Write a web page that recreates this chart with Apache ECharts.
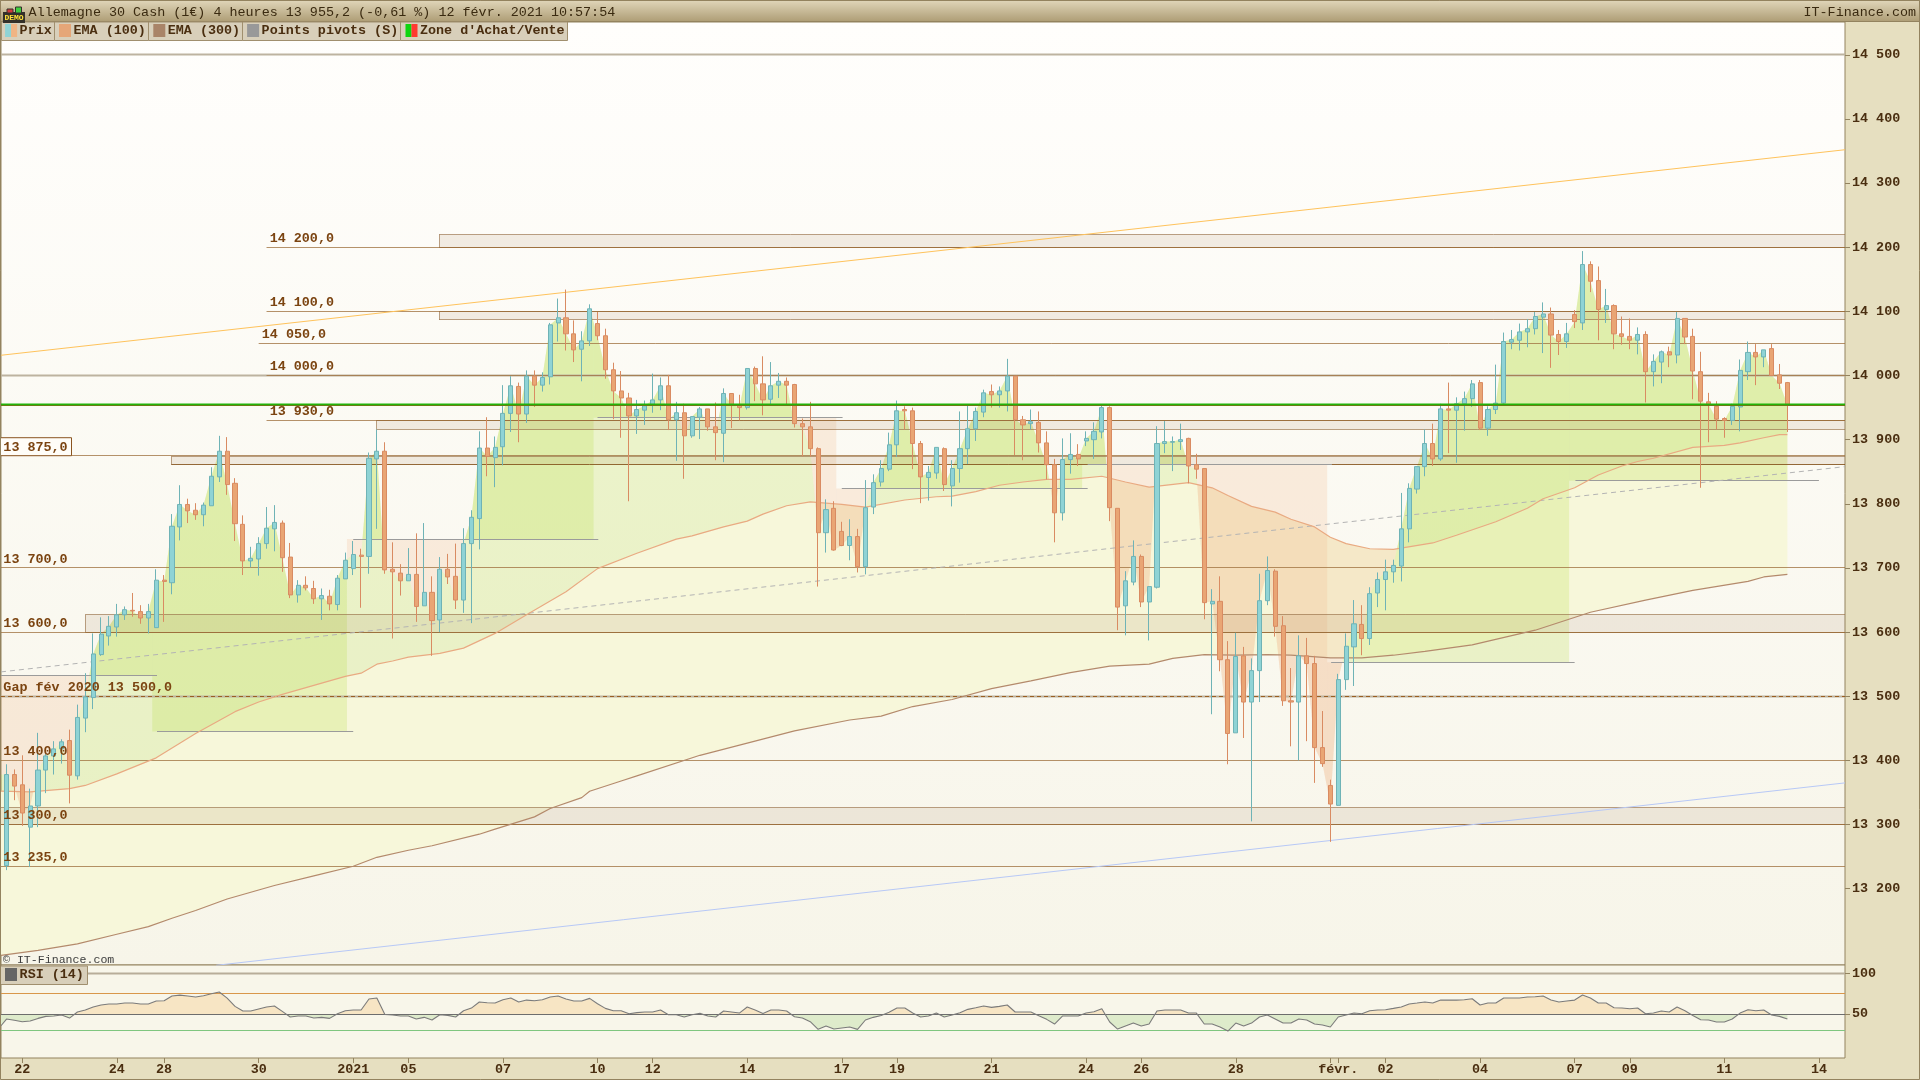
<!DOCTYPE html>
<html><head><meta charset="utf-8"><title>Allemagne 30 Cash</title>
<style>html,body{margin:0;padding:0;background:#e6dfc0}#c{width:1920px;height:1080px}</style>
<script src="https://cdn.jsdelivr.net/npm/echarts@6/dist/echarts.min.js"></script></head><body><div id="c"></div>
<script>
const opens=[13236,13378,13362,13296,13329,13385,13407,13418,13431,13376,
13466,13498,13565,13594,13608,13627,13634,13632,13622,13607,
13681,13677,13764,13799,13790,13783,13797,13842,13882,13832,
13768,13711,13714,13738,13761,13770,13717,13658,13673,13668,
13652,13656,13643,13683,13699,13720,13718,13870,13882,13698,
13692,13680,13690,13641,13662,13619,13698,13687,13650,13738,
13777,13887,13872,13889,13941,13983,13940,13999,13985,13998,
14082,14090,14065,14041,14054,14081,14062,14009,13976,13965,
13937,13946,13955,13962,13984,13931,13942,13906,13935,13948,
13920,13910,13972,13954,13950,14011,13987,13963,13985,13991,
13986,13925,13920,13886,13755,13793,13757,13735,13749,13702,
13795,13834,13854,13892,13947,13945,13894,13841,13848,13886,
13828,13855,13886,13917,13943,13975,13970,13976,13999,13931,
13925,13927,13895,13861,13786,13869,13877,13898,13900,13912,
13950,13793,13641,13678,13718,13647,13670,13894,13896,13897,
13902,13861,13855,13644,13648,13557,13443,13563,13491,13540,
13649,13695,13610,13493,13491,13563,13551,13420,13361,13330,
13526,13577,13612,13590,13661,13682,13694,13703,13761,13823,
13858,13894,13870,13948,13946,13956,13964,13989,13918,13947,
13957,14052,14055,14068,14073,14091,14096,14064,14053,14095,
14082,14173,14148,14103,14109,14065,14061,14055,14064,14006,
14021,14037,14032,14089,14061,14006,13959,13952,13933,13930,
13951,14006,14036,14029,14042,14001,13989];
const closes=[13378,13360,13318,13329,13385,13407,13418,13429,13377,13467,
13499,13566,13597,13609,13627,13635,13633,13622,13632,13681,
13679,13765,13799,13789,13783,13798,13843,13882,13830,13769,
13711,13715,13738,13762,13771,13716,13658,13673,13669,13652,
13657,13644,13684,13712,13721,13718,13871,13882,13697,13694,
13680,13690,13640,13662,13618,13698,13686,13650,13738,13779,
13887,13874,13888,13941,13984,13940,13999,13985,13997,14079,
14090,14065,14040,14054,14104,14062,14009,13976,13965,13937,
13947,13953,13962,13984,13931,13942,13906,13936,13948,13920,
13911,13972,13955,13950,14011,13987,13962,13984,13991,13985,
13925,13920,13886,13755,13791,13728,13735,13749,13702,13794,
13833,13855,13892,13945,13945,13894,13842,13849,13888,13830,
13855,13886,13917,13944,13973,13970,13976,13999,13931,13923,
13928,13895,13861,13786,13869,13877,13870,13902,13913,13950,
13794,13639,13680,13718,13647,13671,13894,13897,13897,13900,
13859,13854,13646,13648,13557,13442,13562,13491,13540,13649,
13696,13609,13493,13491,13563,13551,13420,13395,13332,13526,
13578,13613,13590,13660,13682,13694,13704,13761,13824,13858,
13894,13870,13948,13946,13956,13964,13987,13918,13947,13957,
14053,14056,14068,14073,14092,14096,14063,14053,14065,14084,
14173,14147,14103,14109,14065,14061,14055,14064,14006,14022,
14037,14032,14089,14060,14007,13960,13955,13932,13930,13952,
14008,14036,14029,14040,14000,13988,13954];
const highs=[13394,13386,13408,13356,13443,13410,13430,13433,13448,13487,
13536,13598,13623,13625,13644,13640,13661,13642,13644,13698,
13689,13784,13829,13808,13801,13802,13857,13906,13904,13840,
13782,13733,13748,13795,13798,13774,13739,13681,13687,13680,
13668,13666,13689,13724,13742,13730,13880,13916,13896,13740,
13706,13731,13754,13770,13687,13717,13722,13738,13762,13790,
13913,13935,13905,13985,13999,13989,14008,14008,14005,14082,
14120,14134,14086,14069,14111,14099,14073,14020,14007,13973,
13962,13961,14003,13997,14001,13959,13956,13936,13951,13948,
13958,13980,13972,13970,14011,14014,14030,14021,14004,13997,
13987,13933,13959,13888,13807,13804,13772,13776,13761,13837,
13846,13868,13911,13961,13952,13950,13898,13859,13888,13888,
13868,13944,13953,13950,13978,13986,13983,14026,13999,13937,
13947,13944,13913,13870,13902,13910,13893,13913,13927,13954,
13952,13793,13695,13743,13721,13671,13921,13929,13905,13925,
13903,13878,13855,13667,13687,13586,13599,13577,13559,13691,
13718,13698,13625,13544,13595,13591,13563,13477,13370,13535,
13598,13650,13642,13670,13693,13713,13713,13817,13832,13858,
13916,13925,13956,13989,13966,13975,13993,13993,13952,14017,
14067,14071,14081,14088,14099,14114,14106,14071,14082,14102,
14194,14178,14170,14135,14111,14092,14089,14075,14069,14033,
14039,14045,14099,14089,14073,14037,13973,13960,13935,13956,
14025,14053,14049,14040,14049,14018,13990];
const lows=[13229,13338,13298,13234,13296,13349,13378,13395,13333,13370,
13444,13480,13563,13579,13593,13619,13624,13613,13598,13607,
13616,13659,13743,13770,13775,13765,13797,13834,13814,13742,
13689,13701,13688,13730,13726,13694,13653,13646,13665,13644,
13619,13634,13634,13683,13689,13638,13691,13761,13691,13590,
13657,13680,13616,13641,13563,13600,13675,13636,13630,13614,
13729,13843,13826,13860,13912,13896,13926,13951,13975,13986,
14053,14039,14021,13991,14046,14055,13995,13932,13903,13804,
13909,13923,13942,13946,13915,13867,13839,13903,13901,13914,
13868,13865,13918,13930,13947,13960,13938,13955,13965,13955,
13919,13874,13873,13671,13724,13727,13734,13712,13693,13690,
13784,13827,13851,13873,13916,13854,13801,13805,13839,13820,
13796,13833,13862,13898,13935,13950,13950,13944,13876,13868,
13916,13880,13838,13740,13774,13847,13859,13890,13870,13902,
13773,13603,13595,13673,13639,13587,13668,13879,13851,13884,
13832,13839,13620,13472,13539,13394,13443,13435,13305,13491,
13642,13593,13485,13422,13400,13430,13365,13390,13273,13329,
13510,13516,13564,13580,13639,13634,13677,13679,13740,13816,
13843,13859,13867,13879,13864,13914,13951,13915,13906,13940,
13954,14041,14039,14044,14064,14035,14012,14032,14043,14074,
14071,14130,14055,14082,14041,14048,14041,14033,13958,13983,
13988,14013,14019,14049,13963,13825,13896,13916,13903,13923,
13913,13993,13985,14013,14000,13979,13912];
const ema100Idx=[-0.7,3,8,10,14,19,24,29,32,35,39,43,45,47,49,51,55,58,62,66,71,75,80,85,87,91,94,96,99,102,106,109,114,118,120,123,126,129,132,135,139,142,145,150,153,155,158,161,163,166,168,170,173,176,181,184,189,193,195,199,202,205,207,209,214,218,220,223,225,226];
const ema100Val=[13352,13351,13356,13361,13379,13404,13442,13476,13491,13503,13517,13531,13536,13550,13555,13561,13567,13575,13598,13627,13663,13699,13723,13745,13750,13764,13773,13784,13797,13803,13799,13795,13806,13811,13812,13819,13829,13834,13838,13838,13843,13834,13826,13833,13825,13813,13796,13787,13776,13764,13748,13738,13730,13729,13739,13751,13772,13793,13808,13825,13845,13859,13866,13871,13888,13891,13895,13903,13908,13908];
const ema300Idx=[-0.7,4,9,14,18,21,24,28,32,34,39,44,47,51,54,60,62,67,69,73,74,78,80,88,94,100,107,111,115,120,125,130,135,140,145,148,152,156,160,163,168,172,176,180,186,194,201,208,214,221,223,226];
const ema300Val=[13096,13104,13114,13129,13141,13154,13166,13184,13198,13205,13220,13235,13249,13260,13267,13285,13293,13312,13325,13342,13352,13368,13376,13408,13427,13446,13463,13469,13484,13495,13512,13524,13537,13547,13550,13559,13565,13564,13565,13564,13560,13560,13564,13570,13580,13603,13631,13650,13665,13679,13686,13690];
const rsiStart=35.5;
const rsi=[43.8,42.2,40.5,41.3,44.6,47.1,47.5,48.8,45,52.5,55,58.7,61.2,62.4,62.4,63.6,63.6,62.4,62.4,66.1,
66.5,72.3,73.5,72.3,71.1,72.7,75.2,77.3,69.8,59.5,53.7,53.7,56.2,58.7,59.9,53.3,46.3,47.5,47.5,45,
45.9,44.6,50.4,54.1,55,55,68.6,69.8,49.6,48.8,47.5,47.5,43.8,45.9,42.6,49.2,48.3,46.3,54.1,57.4,
64.9,64,63.6,67.8,69.8,64.9,67.3,66.5,67.8,71.1,72.3,68.6,66.1,66.1,69.4,62.8,57,54.1,54.1,50.4,
51.7,52.5,52.5,55,49.2,49.2,46.3,49.2,50.8,47.5,46.3,53.7,52.5,51.2,58.7,55,50.8,55,55,53.7,
46.7,45,40.5,31,35.1,31.4,32.7,33.9,31,42.6,45.9,48.3,52.1,57.4,57.4,51.2,46.3,47.5,51.2,46.3,
48.8,51.7,55.8,57.8,59.9,58.3,59.5,61.2,52.5,52.5,52.5,47.9,43.4,37.6,47.5,47.5,47.5,51.2,52.9,56.6,
40.1,31.4,35.1,38.8,35.1,37.6,53.7,55,55,55,51.2,51.2,37.6,37.6,33.9,28.9,38.8,35.1,38.8,46.3,
48.8,43.8,38.8,38.8,43.8,42.6,37.6,36.4,33.9,46.3,48.8,51.2,50.4,54.1,55,55.4,57,58.7,62.4,63.6,
64.9,63.6,67.3,67.3,67.3,67.8,69,61.2,63.6,63.6,69.8,69.8,69.8,71.1,71.5,72.3,67.3,64.9,66.1,67.3,
73.5,69.8,63.6,63.6,57.8,57.4,56.6,57.4,50.4,51.2,53.7,52.5,58.7,54.1,48.3,43,42.6,40.1,40.1,43.8,
51.2,55.4,54.1,55,48.8,47.1,43.8];
const dateTickIdx=[2,14,20,32,44,51,63,75,82,94,106,113,125,137,144,156,169,175,187,199,206,218,230];
const dateTickLabels=['22','24','28','30','2021','05','07','10','12','14','17','19','21','24','26','28','févr.','02','04','07','09','11','14'];
const extraTickIdx=[168];
const priceTicks=[13200,13300,13400,13500,13600,13700,13800,13900,14000,14100,14200,14300,14400,14500];
const rsiTicks=[50,100];
const levelValues=[14200,14100,14050,14000,13930,13875,13700,13600,13400,13300,13235];
const levelStart=[33,33,32,33,33,-0.7,-0.7,-0.7,-0.7,-0.7,-0.7];
const levelLabels=['14 200,0','14 100,0','14 050,0','14 000,0','13 930,0','13 875,0','13 700,0','13 600,0','13 400,0','13 300,0','13 235,0'];
const labelStart=[33.4,33.4,32.4,33.4,33.4,-0.4,-0.4,-0.4,-0.4,-0.4,-0.4];
const rectStart=[54.9,54.9,46.9,20.9,10,-0.7];
const rectLow=[14200,14086.6,13916,13861,13600,13300];
const rectHigh=[14220,14100,13930,13874,13627.5,13327];
const pivotStart=[-0.7,19.1,44,75,106,137.2,168.1,199.1];
const pivotEnd=[19.1,44,75.1,106.1,137.2,168.2,199,230];
const pivotLevel=[13532,13445,13745,13934,13824,13862,13553,13836];
const zoneStart=[-0.7,18.5,43.2,74.5,105.3,136.5,167.6,198.3];
const zoneEnd=[18.5,43.2,74.5,105.3,136.5,167.6,198.3,226];
const majorGrid=[14500,14000,13500];
const orangeTrend=[14031.6,14352];
const greyTrend=[13538,13858];
const blueTrend=[13080.6,13365];
const blueStartIdx=26.6;
const lastPrice=13955;

const XMIN=-0.698,XMAX=233.31,YMIN=13081.1,YMAX=14551.1,LAST=226;
const MONO='"Liberation Mono","DejaVu Sans Mono",monospace';
const BOLD='bold 13.4px '+MONO, DK='#4a2e10', LBL='#7b4411';
const FILL_GREEN='rgba(185,220,70,0.24)',FILL_ORANGE='rgba(241,182,136,0.22)';

function lerp(xs,ys,t){
  if(t<=xs[0])return ys[0];
  for(let k=1;k<xs.length;k++){ if(t<=xs[k]){const f=(t-xs[k-1])/(xs[k]-xs[k-1]);return ys[k-1]+f*(ys[k]-ys[k-1]);} }
  return ys[ys.length-1];
}
const closeAt=t=>{ if(t<=0)return closes[0]; const a=Math.floor(t),f=t-a; return f?closes[a]+f*(closes[a+1]-closes[a]):closes[a]; };
const ema100At=t=>lerp(ema100Idx,ema100Val,t);
const ema300At=t=>lerp(ema300Idx,ema300Val,t);
function steps(a,b){const r=[a];for(let i=Math.ceil(a);i<=b;i++)if(i>a)r.push(i);if(r[r.length-1]<b)r.push(b);return r;}
function bandPolys(ts,up,lo,posFill,negFill,api){
  const out=[];let cur=null,pa,pb,pt;
  ts.forEach(t=>{
    const a=up(t),b=lo(t),s=a>=b;
    if(!cur){cur={s,p:[[t,a,b]]};}
    else if(s===cur.s){cur.p.push([t,a,b]);}
    else{const f=(pa-pb)/((pa-pb)-(a-b)),tx=pt+f*(t-pt),v=pa+f*(a-pa);
      cur.p.push([tx,v,v]);out.push(cur);cur={s,p:[[tx,v,v],[t,a,b]]};}
    pa=a;pb=b;pt=t;
  });
  if(cur)out.push(cur);
  return out.map(c=>({type:'polygon',silent:true,
    shape:{points:c.p.map(q=>api.coord([q[0],q[1]])).concat(c.p.slice().reverse().map(q=>api.coord([q[0],q[2]])))},
    style:{fill:c.s?posFill:negFill}}));
}
const crisp=v=>Math.floor(v)+0.5;
function hline(api,x1,x2,v,stroke,w,dash){
  const a=api.coord([x1,v]),b=api.coord([x2,v]);
  return {type:'line',silent:true,shape:{x1:a[0],y1:crisp(a[1]),x2:b[0],y2:crisp(a[1])},style:{stroke,lineWidth:w||1,lineDash:dash||null}};
}
function layer(name,z,n,draw,grid){
  const data=[];for(let k=0;k<n;k++)data.push([0,grid?50:YMIN]);
  return {type:'custom',name,coordinateSystem:'cartesian2d',xAxisIndex:grid||0,yAxisIndex:grid||0,z,silent:true,clip:true,
    encode:{x:0,y:1},data,animation:false,renderItem:(p,api)=>({type:'group',children:draw(p.dataIndex,api)})};
}
const series=[];
series.push(layer('Bande EMA',1,1,(k,api)=>bandPolys(steps(XMIN,LAST),ema100At,ema300At,'#f7f7da','#f7f7da',api)));
series.push(layer('Zone prix EMA',2,1,(k,api)=>bandPolys(steps(XMIN,LAST),closeAt,ema100At,FILL_GREEN,FILL_ORANGE,api)));
series.push(layer("Zone d'Achat/Vente",2,zoneStart.length,(k,api)=>bandPolys(steps(zoneStart[k],zoneEnd[k]),closeAt,()=>pivotLevel[k],FILL_GREEN,FILL_ORANGE,api)));
series.push(layer('Rectangles',3,rectStart.length,(k,api)=>{
  const a=api.coord([rectStart[k],rectHigh[k]]),b=api.coord([XMAX,rectLow[k]]);
  const isTopLevel=[1,2].includes(k);
  return [{type:'rect',silent:true,shape:{x:crisp(a[0]),y:crisp(a[1]),width:b[0]-a[0],height:b[1]-a[1]},style:{fill:'rgba(140,95,50,0.105)'}},
    hline(api,rectStart[k],XMAX,rectHigh[k],isTopLevel?'rgba(130,80,25,0.85)':'rgba(150,110,70,0.65)'),
    hline(api,rectStart[k],XMAX,rectLow[k],isTopLevel?'rgba(150,110,70,0.65)':'rgba(130,80,25,0.85)'),
    {type:'line',silent:true,shape:{x1:crisp(a[0]),y1:a[1],x2:crisp(a[0]),y2:b[1]},style:{stroke:'rgba(150,110,70,0.65)',lineWidth:1}}];
}));
series.push(layer('Grille',3,majorGrid.length,(k,api)=>[hline(api,XMIN,XMAX,majorGrid[k],'#bdb3a0',2)]));
series.push(layer('Niveaux',3,levelValues.length,(k,api)=>[hline(api,levelStart[k],XMAX,levelValues[k],'rgba(160,115,65,0.78)',1)]));
series.push(layer('Gap',3,1,(k,api)=>[hline(api,XMIN,XMAX,13500,'#9a5f22',1,[4,3])]));
series.push(layer('Points pivots',3,pivotStart.length,(k,api)=>[hline(api,pivotStart[k],pivotEnd[k],pivotLevel[k],'#9b9b9b',1.2)]));
const trend=(name,x0,vals,color,dash)=>({type:'line',name,xAxisIndex:0,yAxisIndex:0,z:4,silent:true,showSymbol:false,animation:false,
  data:[[x0,vals[0]],[XMAX,vals[1]]],lineStyle:{color,width:1,type:dash||'solid'}});
series.push(trend('Tendance haute',XMIN,orangeTrend,'#ffc35c'));
series.push(trend('Tendance milieu',XMIN,greyTrend,'#b4b4b4',[5,4]));
series.push(trend('Tendance basse',blueStartIdx,blueTrend,'#b7c8f6'));
series.push({type:'line',name:'EMA (300)',xAxisIndex:0,yAxisIndex:0,z:4,silent:true,showSymbol:false,animation:false,
  data:ema300Idx.map((x,i)=>[x,ema300Val[i]]),lineStyle:{color:'#b48a6c',width:1.2}});
series.push({type:'line',name:'EMA (100)',xAxisIndex:0,yAxisIndex:0,z:4,silent:true,showSymbol:false,animation:false,
  data:ema100Idx.map((x,i)=>[x,ema100Val[i]]),lineStyle:{color:'#e9aa82',width:1.2}});
series.push({type:'candlestick',name:'Prix',xAxisIndex:0,yAxisIndex:0,z:5,silent:true,animation:false,barWidth:4.6,
  encode:{x:0,y:[1,2,3,4]},
  data:opens.map((o,i)=>[i,o,closes[i],lows[i],highs[i]]),
  itemStyle:{color:'#8fd3d5',color0:'#e9a574',borderColor:'#6fb3b6',borderColor0:'#d98b62',borderWidth:1}});
series.push(layer('Prix courant',6,1,(k,api)=>[hline(api,XMIN,XMAX,lastPrice-1.4,'#b5431c',1),hline(api,XMIN,XMAX,lastPrice,'#22b30a',2)]));
series.push(layer('Etiquettes',7,levelLabels.length+1,(k,api)=>{
  const isGap=k===levelLabels.length;
  const x=isGap?-0.4:labelStart[k], v=isGap?13500:levelValues[k];
  const p=api.coord([x,v]);
  const text=isGap?'Gap fév 2020 13 500,0':levelLabels[k];
  const boxed=levelLabels[k]==='13 875,0';
  const kids=[];
  if(boxed){kids.push({type:'rect',silent:true,shape:{x:0.5,y:p[1]-18,width:71,height:18},style:{fill:'#fffdf8',stroke:'#8a5420',lineWidth:1}});}
  kids.push({type:'text',silent:true,style:{x:p[0],y:p[1]-8.5,text,fill:LBL,font:BOLD,align:'left',verticalAlign:'middle',textAlign:'left',textVerticalAlign:'middle'}});
  return kids;
}));
// RSI panel
const R=1;
series.push(layer('RSI zone',2,1,(k,api)=>bandPolys([XMIN].concat(rsi.map((_,i)=>i)),t=>t<0?rsiStart:rsi[t],()=>50,'#f7e5c4','#deebcb',api),R));
series.push(layer('RSI niveaux',3,1,(k,api)=>[hline(api,XMIN,XMAX,100,'#b8ad99',2),hline(api,XMIN,XMAX,75,'#d9974a',1),hline(api,XMIN,XMAX,50,'#6d6d6d',1),hline(api,XMIN,XMAX,30,'#7fc67f',1)],R));
series.push({type:'line',name:'RSI (14)',xAxisIndex:1,yAxisIndex:1,z:4,silent:true,showSymbol:false,animation:false,
  data:[[XMIN,rsiStart]].concat(rsi.map((v,i)=>[i,v])),lineStyle:{color:'#7b7b7b',width:1.1}});

const legendItems=[
 {x:1,w:53,t:'Prix',tx:19.6,c:['#8fd3d5','#f0b484']},
 {x:54,w:94,t:'EMA (100)',tx:73.5,c:['#e5a678']},
 {x:148,w:94,t:'EMA (300)',tx:167.8,c:['#a98468']},
 {x:242,w:158,t:'Points pivots (S)',tx:261.6,c:['#999999']},
 {x:400,w:167,t:"Zone d'Achat/Vente",tx:420,c:['#0fd50f','#ff3a30']}];
const gfx=[];
const txt=(x,y,text,font,fill,align)=>({type:'text',x,y,z:101,silent:true,style:{text,font,fill,align:align||'left',verticalAlign:'middle',textAlign:align||'left',textVerticalAlign:'middle'}});
gfx.push({type:'rect',z:100,silent:true,shape:{x:0,y:0,width:1920,height:21.5},style:{stroke:'#93835f',lineWidth:1,fill:{type:'linear',x:0,y:0,x2:0,y2:1,colorStops:[{offset:0,color:'#e2d8bc'},{offset:1,color:'#ad9c74'}]}}});
gfx.push(txt(28.6,12,"Allemagne 30 Cash (1€) 4 heures 13 955,2 (-0,61 %) 12 févr. 2021 10:57:54",'13.4px '+MONO,'#3a2a10'));
gfx.push(txt(1916,12,'IT-Finance.com','13.4px '+MONO,'#3a2a10','right'));
// DEMO badge
gfx.push({type:'rect',z:101,silent:true,shape:{x:3,y:12,width:22,height:11},style:{fill:'#33302a'}});
gfx.push({type:'rect',z:102,silent:true,shape:{x:7,y:9,width:6,height:4},style:{fill:'#d43a3a',stroke:'#33302a'}});
gfx.push({type:'rect',z:102,silent:true,shape:{x:15.5,y:7,width:6,height:6},style:{fill:'#3ecf3e',stroke:'#33302a'}});
gfx.push(Object.assign(txt(14,18,'DEMO','bold 8px '+MONO,'#ffe23a','center'),{z:103}));
legendItems.forEach(it=>{
  gfx.push({type:'rect',z:100,silent:true,shape:{x:it.x+0.5,y:22,width:it.w,height:18.5},style:{fill:'#d8cfba',stroke:'#a08f6e',lineWidth:1}});
  const sw=12/it.c.length;
  it.c.forEach((col,i)=>gfx.push({type:'rect',z:101,silent:true,shape:{x:it.tx-14.5+i*sw,y:24,width:sw,height:13},style:{fill:col}}));
  gfx.push(txt(it.tx,31,it.t,BOLD,DK));
});
gfx.push({type:'rect',z:100,silent:true,shape:{x:0.5,y:966,width:87,height:18.5},style:{fill:'#d8cfba',stroke:'#a08f6e',lineWidth:1}});
gfx.push({type:'rect',z:101,silent:true,shape:{x:5,y:968,width:12,height:13},style:{fill:'#666666'}});
gfx.push(txt(19.6,975,'RSI (14)',BOLD,DK));
gfx.push(txt(3,960,'© IT-Finance.com','11.6px '+MONO,'#3d3d3d'));
gfx.push({type:'rect',z:120,silent:true,shape:{x:0.5,y:0.5,width:1919,height:1079},style:{fill:'none',stroke:'#93835f',lineWidth:1}});

const yAxisBase=(g,min,max,ticks,fmt)=>({type:'value',gridIndex:g,position:'right',min,max,scale:true,
  axisLine:{show:false,onZero:false},splitLine:{show:false},
  axisTick:{show:true,length:5,inside:false,lineStyle:{color:'#93835f'},customValues:ticks},
  axisLabel:{show:true,margin:7,color:DK,fontFamily:MONO,fontWeight:'bold',fontSize:13.4,align:'left',customValues:ticks,formatter:fmt,showMinLabel:true,showMaxLabel:true}});
const option={
  animation:false,backgroundColor:'#e6dfc0',
  grid:[
   {left:1,top:22,width:1844,height:943,show:true,borderColor:'#93835f',borderWidth:1,
    backgroundColor:{type:'linear',x:0,y:0,x2:0,y2:1,colorStops:[{offset:0,color:'#fffefc'},{offset:1,color:'#f7f5e9'}]}},
   {left:1,top:965,width:1844,height:93,show:true,borderColor:'#93835f',borderWidth:1,backgroundColor:'#f8f6ea'}],
  xAxis:[
   {type:'value',gridIndex:0,position:'bottom',min:XMIN,max:XMAX,scale:true,axisLine:{show:false,onZero:false},axisTick:{show:false},axisLabel:{show:false},splitLine:{show:false}},
   {type:'value',gridIndex:1,position:'bottom',min:XMIN,max:XMAX,scale:true,axisLine:{show:false,onZero:false},splitLine:{show:false},
    axisTick:{show:true,length:5,lineStyle:{color:'#93835f'},customValues:dateTickIdx.concat(extraTickIdx)},
    axisLabel:{show:true,margin:5,color:DK,fontFamily:MONO,fontWeight:'bold',fontSize:13.4,customValues:dateTickIdx,
      formatter:v=>{const k=dateTickIdx.indexOf(v);return k>=0?dateTickLabels[k]:'';}}}],
  yAxis:[
   yAxisBase(0,YMIN,YMAX,priceTicks,v=>String(v).slice(0,2)+' '+String(v).slice(2)),
   yAxisBase(1,-4.5,110.8,rsiTicks,v=>String(v))],
  graphic:gfx,
  series
};
const chart=echarts.init(document.getElementById('c'),null,{renderer:'canvas',width:1920,height:1080});
chart.setOption(option);
</script></body></html>
